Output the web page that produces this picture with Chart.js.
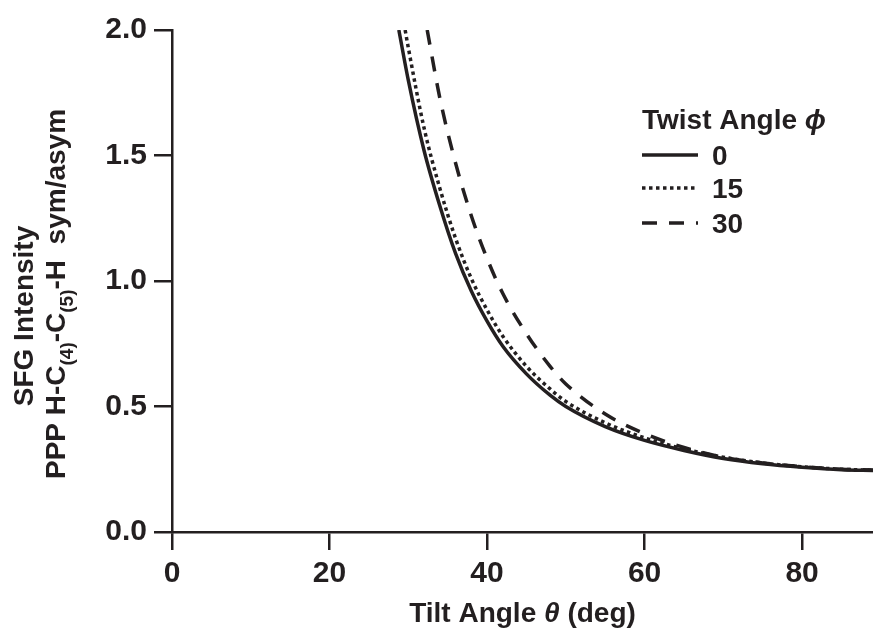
<!DOCTYPE html>
<html lang="en">
<head>
<meta charset="UTF-8">
<title>SFG Intensity vs Tilt Angle</title>
<script src="https://cdn.jsdelivr.net/npm/chart.js"></script>
<style>
    body { margin: 0; background: #fff; }
    canvas { display: block; }
</style>
</head>
<body>
<canvas id="sfgChart" width="873" height="639"></canvas>
<script>
    // values (tilt angle in deg, intensity ratio)
    const tilt0 = [28.8, 30, 32, 34, 36, 38, 40, 42, 45, 48, 50, 55, 60, 65, 70, 75, 80, 85, 89];
    const int0  = [2.00, 1.80, 1.52, 1.30, 1.11, 0.96, 0.84, 0.74, 0.63, 0.545, 0.50, 0.42, 0.365, 0.325, 0.293, 0.272, 0.258, 0.248, 0.245];

    const tilt15 = [29.6, 30, 32, 34, 36, 38, 40, 42, 45, 48, 50, 55, 60, 65, 70, 75, 80, 85, 89];
    const int15  = [2.00, 1.93, 1.61, 1.37, 1.17, 1.01, 0.885, 0.78, 0.66, 0.57, 0.52, 0.435, 0.375, 0.331, 0.298, 0.275, 0.26, 0.25, 0.246];

    const tilt30 = [32.4, 34, 36, 38, 40, 42, 45, 48, 50, 55, 60, 65, 70, 75, 80, 85, 89];
    const int30  = [2.00, 1.73, 1.47, 1.26, 1.09, 0.95, 0.79, 0.66, 0.59, 0.47, 0.392, 0.337, 0.298, 0.275, 0.26, 0.25, 0.247];

    const twistLabels = ['0', '15', '30'];

    const ink = '#231f20';
    const family = "'Liberation Sans', Arial, Helvetica, sans-serif";

    function toPoints(xs, ys) {
        return xs.map((x, i) => ({ x: x, y: ys[i] }));
    }

    // draw a row of text pieces (normal / italic / subscript) centred on cx
    function runFont(r) {
        if (r.sub) return 'bold 19px ' + family;
        if (r.it) return 'italic bold 28px ' + family;
        return 'bold 28px ' + family;
    }
    function drawRuns(ctx, runs, x, y, align) {
        let total = 0;
        runs.forEach(r => { ctx.font = runFont(r); total += ctx.measureText(r.t).width; });
        if (align === 'center') x -= total / 2;
        runs.forEach(r => {
            ctx.font = runFont(r);
            ctx.fillText(r.t, x, y + (r.sub ? 8 : 0));
            x += ctx.measureText(r.t).width;
        });
    }

    const decorPlugin = {
        id: 'decor',
        afterDraw(chart) {
            const ctx = chart.ctx;
            const area = chart.chartArea;
            ctx.save();
            ctx.fillStyle = ink;
            ctx.textAlign = 'left';
            ctx.textBaseline = 'alphabetic';

            // x axis title
            drawRuns(ctx, [{ t: 'Tilt Angle ' }, { t: 'θ', it: true }, { t: ' (deg)' }],
                (area.left + area.right) / 2, 622, 'center');

            // y axis title, two rotated lines
            ctx.save();
            ctx.translate(33, 316);
            ctx.rotate(-Math.PI / 2);
            drawRuns(ctx, [{ t: 'SFG Intensity' }], 0, 0, 'center');
            ctx.restore();

            ctx.save();
            ctx.translate(65, 294);
            ctx.rotate(-Math.PI / 2);
            drawRuns(ctx, [
                { t: 'PPP H-C' }, { t: '(4)', sub: true }, { t: '-C' }, { t: '(5)', sub: true },
                { t: '-H  sym/asym' }
            ], 0, 0, 'center');
            ctx.restore();

            // legend
            drawRuns(ctx, [{ t: 'Twist Angle ' }, { t: 'ϕ', it: true }], 642, 129, 'left');
            const rowY = [155, 188, 223];
            chart.data.datasets.forEach((ds, i) => {
                ctx.save();
                ctx.strokeStyle = ds.borderColor;
                ctx.lineWidth = ds.borderWidth;
                ctx.lineCap = 'butt';
                ctx.setLineDash(ds.borderDash || []);
                ctx.beginPath();
                ctx.moveTo(642, rowY[i]);
                ctx.lineTo(698, rowY[i]);
                ctx.stroke();
                ctx.restore();
                drawRuns(ctx, [{ t: ds.label }], 712, rowY[i] + 10, 'left');
            });
            ctx.restore();
        }
    };

    const tickFont = { family: family, size: 30, weight: 'bold' };

    new Chart(document.getElementById('sfgChart'), {
        type: 'line',
        data: {
            datasets: [
                { label: twistLabels[0], data: toPoints(tilt0, int0), borderColor: ink, borderWidth: 3.5, borderDash: [] },
                { label: twistLabels[1], data: toPoints(tilt15, int15), borderColor: ink, borderWidth: 3.5, borderDash: [3.5, 3.5] },
                { label: twistLabels[2], data: toPoints(tilt30, int30), borderColor: ink, borderWidth: 3.5, borderDash: [15, 12] }
            ]
        },
        options: {
            responsive: false,
            animation: false,
            layout: { padding: { top: 30, right: 0, bottom: 0, left: 0 } },
            elements: {
                point: { radius: 0 },
                line: { cubicInterpolationMode: 'monotone', borderCapStyle: 'butt', fill: false }
            },
            plugins: {
                legend: { display: false },
                tooltip: { enabled: false }
            },
            scales: {
                x: {
                    type: 'linear',
                    min: 0,
                    max: 89,
                    ticks: { stepSize: 20, includeBounds: false, color: ink, font: tickFont, padding: 6, maxRotation: 0 },
                    grid: { drawOnChartArea: false, tickLength: 18, color: ink, lineWidth: 2.5 },
                    border: { color: ink, width: 2.5 },
                    afterFit: s => { s.height = 107; }
                },
                y: {
                    min: 0,
                    max: 2,
                    ticks: { stepSize: 0.5, color: ink, font: tickFont, padding: 7, callback: v => v.toFixed(1) },
                    grid: { drawOnChartArea: false, tickLength: 18, color: ink, lineWidth: 2.5 },
                    border: { color: ink, width: 2.5 },
                    afterFit: s => { s.width = 172; }
                }
            }
        },
        plugins: [decorPlugin]
    });
</script>
</body>
</html>
